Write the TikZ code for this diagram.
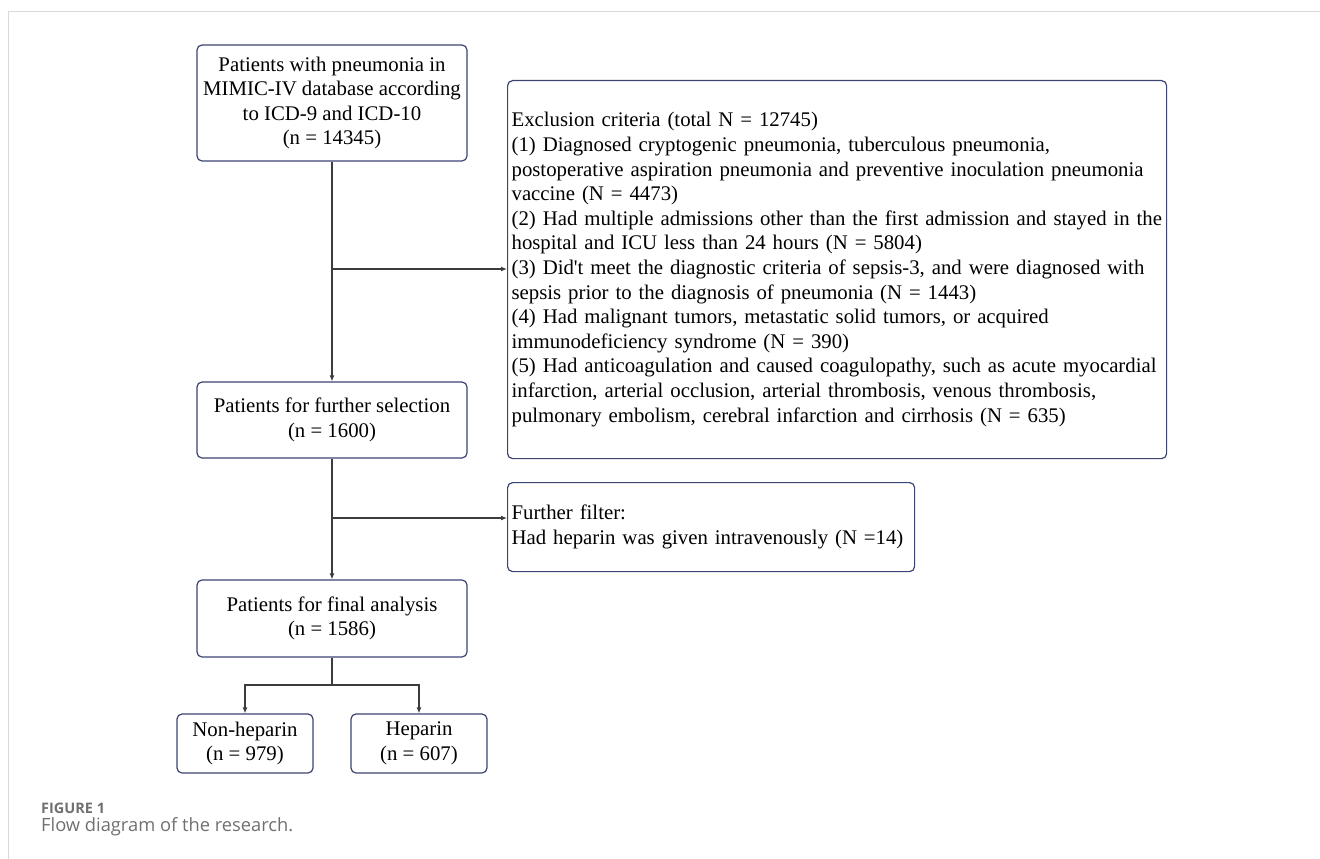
\documentclass[tikz,border=0pt]{standalone}
\usepackage{fontspec}
\setmainfont{Liberation Serif}
\newfontfamily\captionfont{Open Sans}
\usetikzlibrary{positioning, arrows.meta}
\hyphenpenalty=10000
\definecolor{boxline}{RGB}{59,68,112}
\definecolor{connline}{RGB}{60,60,60}
\definecolor{frameline}{RGB}{217,217,217}
\definecolor{captiongray}{RGB}{112,112,112}
\tikzstyle{process} = [rectangle, rounded corners=5pt, minimum width=270pt, inner sep=0pt, align=center, draw=boxline, line width=1.2pt, font=\fontsize{20.8}{24.6}\selectfont]
\tikzstyle{criteria} = [process, align=left, inner xsep=4pt, anchor=north west]
\tikzstyle{arrow} = [line width=1.2pt, draw=connline, ->, >={Latex[length=6pt,width=5pt]}]
\tikzstyle{line} = [line width=1.2pt, draw=connline]

\begin{document}
\begin{tikzpicture}[x=1pt, y=-1pt]
          \useasboundingbox (0,0) rectangle (1320,859);
          \draw [frameline, line width=1.5pt] (8.5,859) -- (8.5,11.5) -- (1320,11.5);

          \node (pneu)   [process, minimum height=116pt] at (332,103)   {Patients with pneumonia in\\MIMIC-IV database according\\to ICD-9 and ICD-10\\(n = 14345)}; %
          \node (sel)    [process, minimum height=76pt]  at (332,420)   {Patients for further selection\\(n = 1600)}; %
          \node (final)  [process, minimum height=77pt]  at (332,618.5) {Patients for final analysis\\(n = 1586)}; %
          \node (nonhep) [process, minimum width=136pt, minimum height=59pt] at (245,743.5) {Non-heparin\\(n = 979)}; %
          \node (hep)    [process, minimum width=136pt, minimum height=59pt] at (419,743.5) {Heparin\\(n = 607)}; %
          \node (excl)   [criteria, text width=651pt, minimum height=378pt] at (507,80) {Exclusion criteria (total N = 12745)\\
            (1) Diagnosed cryptogenic pneumonia, tuberculous pneumonia,\\
            postoperative aspiration pneumonia and preventive inoculation pneumonia\\
            vaccine (N = 4473)\\
            (2) Had multiple admissions other than the first admission and stayed in the\\
            hospital and ICU less than 24 hours (N = 5804)\\
            (3) Did\textquotesingle t meet the diagnostic criteria of sepsis-3, and were diagnosed with\\
            sepsis prior to the diagnosis of pneumonia (N = 1443)\\
            (4) Had malignant tumors, metastatic solid tumors, or acquired\\
            immunodeficiency syndrome (N = 390)\\
            (5) Had anticoagulation and caused coagulopathy, such as acute myocardial\\
            infarction, arterial occlusion, arterial thrombosis, venous thrombosis,\\
            pulmonary embolism, cerebral infarction and cirrhosis (N = 635)}; %
          \node (filt)   [criteria, text width=399pt, minimum height=89pt] at (507,482) {Further filter:\\Had heparin was given intravenously (N =14)}; %

          \node (figlabel) [anchor=west, inner sep=0pt, text=captiongray, font=\captionfont\bfseries\fontsize{14.5}{17}\selectfont] at (41,808.5) {FIGURE 1}; %
          \node (figtext)  [anchor=west, inner sep=0pt, text=captiongray, font=\captionfont\fontsize{18.3}{21}\selectfont] at (41,827) {Flow diagram of the research.}; %

          %% Connections
          \coordinate (fork1) at (332,269);
          \coordinate (fork2) at (332,518);
          \coordinate (split) at (332,685);
          \draw [arrow] (pneu)  -- (sel); %
          \draw [arrow] (fork1) -- (excl.west |- fork1); %
          \draw [arrow] (sel)   -- (final); %
          \draw [arrow] (fork2) -- (filt.west |- fork2); %
          \draw [line]  (final) -- (split); %
          \draw [arrow] (split) -| (nonhep); %
          \draw [arrow] (split) -| (hep); %
        \end{tikzpicture}
\end{document}
